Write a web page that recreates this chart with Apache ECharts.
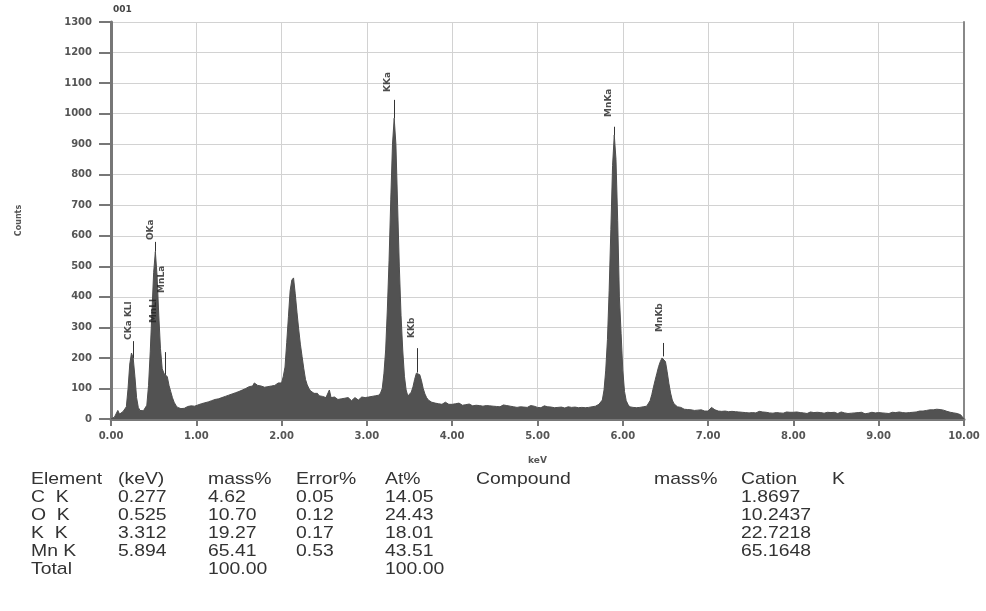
<!DOCTYPE html>
<html style="height: 100%">
   <head>
       <meta charset="utf-8">
   </head>
   <body style="height: 100%; margin: 0; background: #fff">
       <div id="container" style="width: 986px; height: 611px;"></div>
       <script type="text/javascript" src="https://cdn.jsdelivr.net/npm/echarts@6/dist/echarts.min.js"></script>
       <script type="text/javascript">
// spectrum: counts per 0.02 keV channel, 0.00 .. 10.00 keV (one row = 0.5 keV)
var startKeV = 0;
var channelWidth = 0.02;
var counts = [
    0, 4, 6, 10, 28, 16, 20, 24, 30, 40, 100, 180, 216, 200, 140, 70, 38, 28, 25, 27, 32, 45, 110, 220, 350,
    480, 548, 470, 340, 230, 165, 150, 145, 138, 110, 90, 70, 55, 45, 38, 36, 34, 37, 35, 39, 41, 38, 43, 45, 42,
    42, 46, 44, 50, 48, 53, 51, 56, 54, 60, 58, 64, 62, 66, 64, 70, 68, 74, 72, 78, 76, 82, 80, 86, 84,
    90, 88, 95, 93, 100, 98, 106, 112, 108, 118, 114, 110, 116, 108, 112, 104, 110, 106, 102, 108, 104, 110, 112, 118, 116,
    118, 140, 170, 250, 335, 420, 455, 462, 410, 350, 295, 245, 205, 165, 130, 112, 100, 92, 88, 84, 80, 84, 76, 79, 74,
    72, 70, 74, 95, 70, 66, 72, 68, 64, 70, 66, 62, 68, 64, 70, 66, 60, 66, 70, 64, 62, 68, 72, 66, 70,
    68, 72, 70, 74, 72, 76, 80, 78, 85, 100, 150, 226, 360, 520, 720, 900, 985, 900, 700, 500, 340, 226, 140, 95, 75,
    80, 88, 105, 130, 150, 155, 145, 125, 100, 82, 70, 62, 58, 55, 60, 52, 56, 50, 54, 48, 52, 55, 50, 48, 52,
    48, 44, 50, 46, 52, 48, 45, 50, 47, 44, 49, 46, 43, 48, 45, 50, 44, 47, 42, 46, 44, 48, 43, 46, 42,
    45, 41, 44, 40, 43, 46, 41, 44, 39, 42, 45, 40, 43, 38, 42, 40, 44, 39, 42, 38, 41, 44, 39, 42, 40,
    38, 41, 37, 40, 43, 38, 40, 36, 39, 42, 37, 40, 38, 35, 39, 41, 36, 38, 40, 35, 38, 36, 39, 34, 37,
    36, 38, 34, 37, 35, 38, 36, 40, 38, 42, 45, 48, 52, 62, 95, 160, 260, 420, 620, 830, 930, 850, 650, 400, 280,
    160, 90, 60, 48, 40, 36, 38, 34, 37, 35, 38, 36, 40, 38, 42, 45, 60, 80, 105, 128, 150, 172, 188, 200, 205,
    188, 155, 117, 85, 62, 50, 44, 40, 36, 38, 34, 32, 35, 31, 33, 30, 32, 28, 31, 29, 27, 30, 28, 26, 29,
    26, 30, 38, 42, 30, 24, 26, 22, 25, 23, 26, 22, 24, 21, 25, 22, 24, 20, 23, 26, 22, 24, 21, 23, 20,
    23, 21, 24, 20, 22, 25, 21, 23, 19, 22, 24, 20, 22, 19, 23, 21, 24, 20, 22, 19, 21, 23, 20, 22, 19,
    22, 20, 23, 19, 21, 24, 20, 22, 18, 21, 23, 19, 21, 20, 22, 18, 21, 23, 19, 20, 22, 18, 21, 19, 22,
    20, 18, 21, 23, 19, 20, 22, 18, 21, 19, 22, 20, 18, 21, 19, 22, 20, 17, 21, 19, 20, 22, 18, 20, 19,
    21, 18, 20, 22, 19, 21, 18, 20, 22, 19, 21, 20, 23, 19, 21, 22, 20, 24, 21, 23, 22, 25, 23, 24, 26,
    24, 26, 25, 28, 27, 30, 32, 30, 34, 32, 35, 31, 33, 29, 28, 25, 24, 22, 23, 20, 21, 18, 16, 14, 10,
    0
];

// peak labels (rotated), keV of label and count at the label's lower end
var peakNames = ['CKa KLl', 'OKa', 'MnLl', 'MnLa', 'KKa', 'KKb', 'MnKa', 'MnKb'];
var peakLabelKeV = [0.21, 0.47, 0.50, 0.59, 3.245, 3.53, 5.84, 6.43];
var peakLabelCount = [259, 586, 314, 413, 1071, 265, 989, 285];

// leader lines from label down to the peak
var leaderKeV = [0.26, 0.52, 0.64, 3.32, 3.59, 5.90, 6.48];
var leaderTop = [255, 580, 219, 1045, 232, 957, 249];
var leaderBottom = [200, 548, 145, 985, 152, 930, 205];

// quantification table
var tableHeader = ['Element', '(keV)', 'mass%', 'Error%', 'At%', 'Compound', 'mass%', 'Cation', 'K'];
var elementNames = ['C  K', 'O  K', 'K  K', 'Mn K', 'Total'];
var lineKeV = ['0.277', '0.525', '3.312', '5.894', ''];
var massPct = ['4.62', '10.70', '19.27', '65.41', '100.00'];
var errorPct = ['0.05', '0.12', '0.17', '0.53', ''];
var atPct = ['14.05', '24.43', '18.01', '43.51', '100.00'];
var compound = ['', '', '', '', ''];
var compoundMass = ['', '', '', '', ''];
var cation = ['1.8697', '10.2437', '22.7218', '65.1648', ''];
var kRatio = ['', '', '', '', ''];

var spectrum = counts.map(function (c, i) {
    return [+(startKeV + i * channelWidth).toFixed(2), c];
});

var labelData = peakNames.map(function (n, i) {
    return { name: n, value: [peakLabelKeV[i], peakLabelCount[i]] };
});

var leaders = leaderKeV.map(function (k, i) {
    return [{ coord: [k, leaderTop[i]] }, { coord: [k, leaderBottom[i]] }];
});

// table as graphic texts
var colX = [31, 118, 208, 296, 385, 476, 654, 741, 832];
var rowY = [479, 497, 515, 533, 551, 569];
var columns = [elementNames, lineKeV, massPct, errorPct, atPct, compound, compoundMass, cation, kRatio];
var tableFont = '17px "Liberation Sans", Arial, sans-serif';

function cell(txt, x, y) {
    return {
        type: 'text', x: x, y: y, scaleX: 1.14, silent: true,
        style: { text: txt, fill: '#333', font: tableFont, verticalAlign: 'middle', textVerticalAlign: 'middle' }
    };
}

var graphics = [];
tableHeader.forEach(function (h, c) {
    graphics.push(cell(h, colX[c], rowY[0]));
});
columns.forEach(function (col, c) {
    col.forEach(function (v, r) {
        if (v !== '') graphics.push(cell(v, colX[c], rowY[r + 1]));
    });
});
graphics.push({
    type: 'text', x: 113, y: 10, silent: true,
    style: { text: '001', fill: '#444', font: 'bold 9px "DejaVu Sans"', verticalAlign: 'middle', textVerticalAlign: 'middle' }
});

var axisFont = { fontFamily: 'DejaVu Sans', fontSize: 10, fontWeight: 'bold', color: '#555' };

var dom = document.getElementById("container");
var myChart = echarts.init(dom, null, { renderer: 'canvas' });
var option = {
    animation: false,
    backgroundColor: '#fff',
    grid: { left: 111, right: 22, top: 22, bottom: 192 },
    xAxis: {
        type: 'value', min: 0, max: 10, interval: 1,
        name: 'keV', nameLocation: 'middle', nameGap: 37,
        nameTextStyle: { fontFamily: 'DejaVu Sans', fontSize: 9, fontWeight: 'bold', color: '#555' },
        axisLine: { show: true, onZero: false, lineStyle: { color: '#777', width: 3 } },
        axisTick: { show: true, length: 7, lineStyle: { color: '#777', width: 2 } },
        axisLabel: Object.assign({ margin: 12, formatter: function (v) { return v.toFixed(2); } }, axisFont),
        splitLine: { show: true, lineStyle: { color: '#d2d2d2', width: 1 } }
    },
    yAxis: [{
        type: 'value', min: 0, max: 1300, interval: 100,
        name: 'Counts', nameLocation: 'middle', nameGap: 88, nameRotate: 90,
        nameTextStyle: { fontFamily: 'DejaVu Sans', fontSize: 8, fontWeight: 'bold', color: '#555' },
        axisLine: { show: true, lineStyle: { color: '#777', width: 3 } },
        axisTick: { show: true, length: 12, lineStyle: { color: '#777', width: 2 } },
        axisLabel: Object.assign({ margin: 19, formatter: function (v) { return String(v); } }, axisFont),
        splitLine: { show: true, lineStyle: { color: '#d2d2d2', width: 1 } }
    }, {
        type: 'value', min: 0, max: 1300, interval: 100, position: 'right',
        axisLine: { show: true, lineStyle: { color: '#888', width: 2 } },
        axisTick: { show: false }, axisLabel: { show: false }, splitLine: { show: false }
    }],
    series: [{
        type: 'line',
        data: spectrum,
        showSymbol: false,
        symbol: 'none',
        lineStyle: { color: '#4e4e4e', width: 1 },
        areaStyle: { color: '#525252', opacity: 1 },
        silent: true
    }, {
        type: 'scatter',
        data: labelData,
        symbolSize: 0,
        silent: true,
        z: 5,
        label: {
            show: true,
            position: 'top',
            distance: 0,
            rotate: 90,
            align: 'left',
            verticalAlign: 'middle',
            formatter: '{b}',
            fontFamily: 'DejaVu Sans',
            fontSize: 9,
            fontWeight: 'bold',
            color: '#222'
        },
        markLine: {
            silent: true,
            symbol: ['none', 'none'],
            label: { show: false },
            lineStyle: { color: '#333', width: 1, type: 'solid' },
            data: leaders
        }
    }],
    graphic: graphics
};
myChart.setOption(option);
       </script>
   </body>
</html>
